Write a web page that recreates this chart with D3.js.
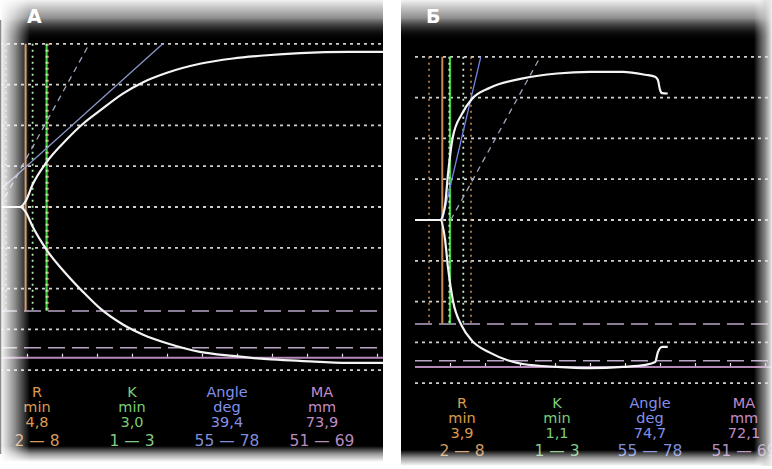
<!DOCTYPE html>
<html>
<head>
<meta charset="utf-8">
<script src="https://cdn.jsdelivr.net/npm/d3@7"></script>
<style>
  body { margin: 0; background: #ffffff; }
  svg { display: block; }
</style>
</head>
<body>
<svg id="TEG" width="772" height="469"></svg>
<script>
// ---- data (time in min, amplitude in mm per side) ----
var timesA = [0, 4.0, 4.8, 5.8, 7.8, 10.7, 13, 15.4, 18.7, 21.6, 25, 29.7, 34.4, 39.3, 44, 51, 56];
var upperA = [0, 0, 1.4, 5.5, 11.0, 16.6, 20.4, 23.6, 27.8, 30.6, 32.9, 35.1, 36.4, 37.2, 37.7, 38, 38];
var lowerA = [0, 0, 1.2, 4.8, 10.5, 16.6, 20.8, 24.8, 28.8, 31.3, 33.4, 35.5, 36.5, 37.3, 37.7, 38.2, 38.2];

var timesB = [0, 3.6, 4.3, 4.7, 5.4, 6.7, 8.1, 10.7, 15.4, 20.3, 25, 29.7, 32.9, 34.3, 34.7, 35, 35.3, 36.1];
var upperB = [0, 0, 3.7, 11, 20.3, 26.0, 29.6, 32.4, 34.7, 35.9, 36.3, 36.3, 35.6, 35.1, 34.3, 31.9, 31.1, 31.0];
var lowerB = [0, 0, 4.9, 11.5, 19.6, 26.0, 29.5, 32.5, 35.3, 36, 36.3, 36, 35.5, 34.8, 32.4, 31.4, 31.1, 31.1];

var paramNames = ["R", "K", "Angle", "MA"];
var paramUnits = ["min", "min", "deg", "mm"];
var paramRanges = ["2 \u2014 8", "1 \u2014 3", "55 \u2014 78", "51 \u2014 69"];
var valuesA = ["4,8", "3,0", "39,4", "73,9"];
var valuesB = ["3,9", "1,1", "74,7", "72,1"];

var rA = 4.8, kA = 3.0, maA = 73.9;
var rB = 3.9, kB = 1.1, maB = 72.1;
var rRange = [2, 8], kRange = [1, 3], maRange = [51, 69];

var angleLineA = [[0, 2.4], [24.4, 40]];
var tangentA = [[1.1, 0], [13.9, 40]];
var angleLineB = [[3.9, 0], [9.4, 40]];
var tangentB = [[5.1, 0], [17.9, 40]];

var gridAmps = [-40, -30, -20, -10, 0, 10, 20, 30, 40];
var timeTicks = [5, 10, 15, 20, 25, 30, 35, 40, 45, 50, 55];

var paramColors = ["#dc9a4e", "#7ccc78", "#8290ec", "#c28cc6"];
var rangeColors = ["#d29a60", "#86c886", "#7f8ed8", "#b58abd"];

var PX_MM = 4.08, PX_MIN = 7;

let svg = d3.select("#TEG");
let defs = svg.append("defs");

// gradient helper for photo-like faded edges
function fade(id, x1, y1, x2, y2, stops) {
  let g = defs.append("linearGradient").attr("id", id)
    .attr("x1", x1).attr("y1", y1).attr("x2", x2).attr("y2", y2);
  stops.forEach(s => g.append("stop").attr("offset", s[0]).attr("stop-color", s[1]).attr("stop-opacity", s[2]));
}
fade("fadeTop", 0, 0, 0, 1, [[0, "#f2f2f2", 1], [0.45, "#a8a8a8", 0.85], [1, "#000", 0]]);
fade("fadeLeft", 0, 0, 1, 0, [[0, "#ffffff", 1], [0.5, "#ffffff", 0.55], [1, "#fff", 0]]);
fade("fadeRight", 0, 0, 1, 0, [[0, "#fff", 0], [0.6, "#d8d8d8", 0.6], [1, "#eeeeee", 1]]);
fade("fadeBottom", 0, 0, 0, 1, [[0, "#fff", 0], [0.5, "#ffffff", 0.6], [1, "#ffffff", 1]]);

// draw one TEG panel
let drawPanel = function (p) {
  defs.append("clipPath").attr("id", "clip" + p.id)
    .append("rect").attr("x", p.left).attr("y", p.top)
    .attr("width", p.right - p.left).attr("height", p.bottom - p.top);

  let panel = svg.append("g");
  panel.append("rect").attr("x", p.left).attr("y", 0)
    .attr("width", p.right - p.left).attr("height", p.bottom).attr("fill", "#000");

  let x = d3.scaleLinear().domain([0, 1]).range([p.x0, p.x0 + PX_MIN]);
  let y = d3.scaleLinear().domain([0, 1]).range([p.cy, p.cy - PX_MM]);

  let g = panel.append("g").attr("clip-path", "url(#clip" + p.id + ")");

  // dotted amplitude grid
  g.selectAll(".grid").data(gridAmps).enter().append("line")
    .attr("x1", p.gridStart).attr("x2", p.right)
    .attr("y1", d => y(d)).attr("y2", d => y(d))
    .attr("stroke", "#cfcfcf").attr("stroke-width", 1.8)
    .attr("stroke-dasharray", "3,4");

  // MA normal range (dashed) and MA line
  g.selectAll(".marange").data(maRange).enter().append("line")
    .attr("x1", p.gridStart).attr("x2", p.right)
    .attr("y1", d => y(-d / 2)).attr("y2", d => y(-d / 2))
    .attr("stroke", "#b9a6c6").attr("stroke-width", 1.6)
    .attr("stroke-dasharray", "17,7");
  g.append("line").attr("x1", p.gridStart).attr("x2", p.right)
    .attr("y1", y(-p.ma / 2)).attr("y2", y(-p.ma / 2))
    .attr("stroke", "#b488b8").attr("stroke-width", 2);

  // time ticks on the MA line
  let tAxis = d3.axisTop(x).tickValues(timeTicks).tickSize(3).tickFormat("");
  let ax = g.append("g").attr("transform", "translate(0," + (y(-p.ma / 2) - 1) + ")").call(tAxis);
  ax.select(".domain").remove();
  ax.selectAll(".tick line").attr("stroke", "#e8e8e8").attr("stroke-width", 1.2);

  // vertical markers (top grid line down to the upper MA range line)
  let vTop = y(40), vBot = y(-maRange[0] / 2);
  let vlines = [
    { t: rRange[0], c: "#d49450", dash: "2,4", w: 1.5 },
    { t: rRange[1], c: "#d49450", dash: "2,4", w: 1.5 },
    { t: p.r, c: "#c98a52", dash: null, w: 2 },
    { t: p.r + p.k, c: "#3ccf3c", dash: null, w: 2.2 },
    { t: p.r + kRange[0], c: "#b8e8b0", dash: "2,4", w: 1.8 },
    { t: p.r + kRange[1], c: "#c8f0c0", dash: "2,4", w: 1.8 }
  ];
  g.selectAll(".vline").data(vlines).enter().append("line")
    .attr("x1", d => x(d.t)).attr("x2", d => x(d.t))
    .attr("y1", vTop).attr("y2", vBot)
    .attr("stroke", d => d.c).attr("stroke-width", d => d.w)
    .attr("stroke-dasharray", d => d.dash);

  // angle lines
  let seg = d3.line().x(d => x(d[0])).y(d => y(d[1]));
  g.append("path").attr("d", seg(p.tangent)).attr("fill", "none")
    .attr("stroke", "#9ea4bc").attr("stroke-width", 1.3).attr("stroke-dasharray", "6,5");
  g.append("path").attr("d", seg(p.angle)).attr("fill", "none")
    .attr("stroke", p.angleColor).attr("stroke-width", 1.3);

  // TEG trace, upper and lower
  let up = d3.line().curve(d3.curveMonotoneX).x((d, i) => x(p.times[i])).y(d => y(d));
  let lo = d3.line().curve(d3.curveMonotoneX).x((d, i) => x(p.times[i])).y(d => y(-d));
  g.append("path").attr("d", up(p.upper)).attr("fill", "none")
    .attr("stroke", "#f4f4f4").attr("stroke-width", 2.2);
  g.append("path").attr("d", lo(p.lower)).attr("fill", "none")
    .attr("stroke", "#f4f4f4").attr("stroke-width", 2.2);

  // parameter table
  let cols = panel.selectAll(".col").data(paramNames).enter().append("g")
    .attr("transform", (d, i) => "translate(" + p.cols[i] + ",0)")
    .style("font-family", "'DejaVu Sans', Verdana, sans-serif")
    .style("font-size", "14.5px").attr("text-anchor", "middle");
  cols.append("text").attr("y", p.rows[0]).attr("fill", (d, i) => paramColors[i]).text(d => d);
  cols.append("text").attr("y", p.rows[1]).attr("fill", (d, i) => paramColors[i]).text((d, i) => paramUnits[i]);
  cols.append("text").attr("y", p.rows[2]).attr("fill", (d, i) => paramColors[i]).text((d, i) => p.values[i]);
  cols.append("text").attr("y", p.rows[3]).attr("fill", (d, i) => rangeColors[i])
    .style("font-size", "15.5px").text((d, i) => paramRanges[i]);

  // faded photo edges
  panel.append("rect").attr("x", p.left).attr("y", 0).attr("width", p.right - p.left)
    .attr("height", 40).attr("fill", "url(#fadeTop)");
  panel.append("rect").attr("x", p.left).attr("y", p.bottom - 16).attr("width", p.right - p.left)
    .attr("height", 16).attr("fill", "url(#fadeBottom)");
  if (p.fadeLeft) {
    panel.append("rect").attr("x", p.left).attr("y", 0).attr("width", 30)
      .attr("height", p.bottom).attr("fill", "url(#fadeLeft)");
  }
  if (p.fadeRight) {
    panel.append("rect").attr("x", p.right - 18).attr("y", 0).attr("width", 18)
      .attr("height", p.bottom).attr("fill", "url(#fadeRight)");
  } else {
    panel.append("line").attr("x1", p.left + 0.5).attr("x2", p.left + 0.5)
      .attr("y1", 20).attr("y2", p.bottom - 8).attr("stroke", "#8a8a8a").attr("stroke-width", 1.5);
  }

  // panel letter
  panel.append("text").attr("x", p.left + p.labelDx).attr("y", 23)
    .style("font-family", "'DejaVu Sans', Verdana, sans-serif")
    .style("font-size", "19px").style("font-weight", "bold")
    .attr("fill", "#ffffff").text(p.label);
};

drawPanel({
  id: "A", label: "A", labelDx: 27, left: 0, right: 383, top: 30, bottom: 462,
  x0: -8, cy: 207, gridStart: 0, fadeLeft: true, fadeRight: false,
  r: rA, k: kA, ma: maA, times: timesA, upper: upperA, lower: lowerA,
  angle: angleLineA, tangent: tangentA, angleColor: "#8a96c8",
  values: valuesA, cols: [37, 132, 227, 322], rows: [397, 412, 427, 446]
});
drawPanel({
  id: "B", label: "\u0411", labelDx: 25, left: 401, right: 772, top: 30, bottom: 466,
  x0: 415, cy: 220, gridStart: 415, fadeLeft: false, fadeRight: true,
  r: rB, k: kB, ma: maB, times: timesB, upper: upperB, lower: lowerB,
  angle: angleLineB, tangent: tangentB, angleColor: "#7484e6",
  values: valuesB, cols: [462, 557, 650, 744], rows: [408, 423, 438, 456]
});
</script>
</body>
</html>
